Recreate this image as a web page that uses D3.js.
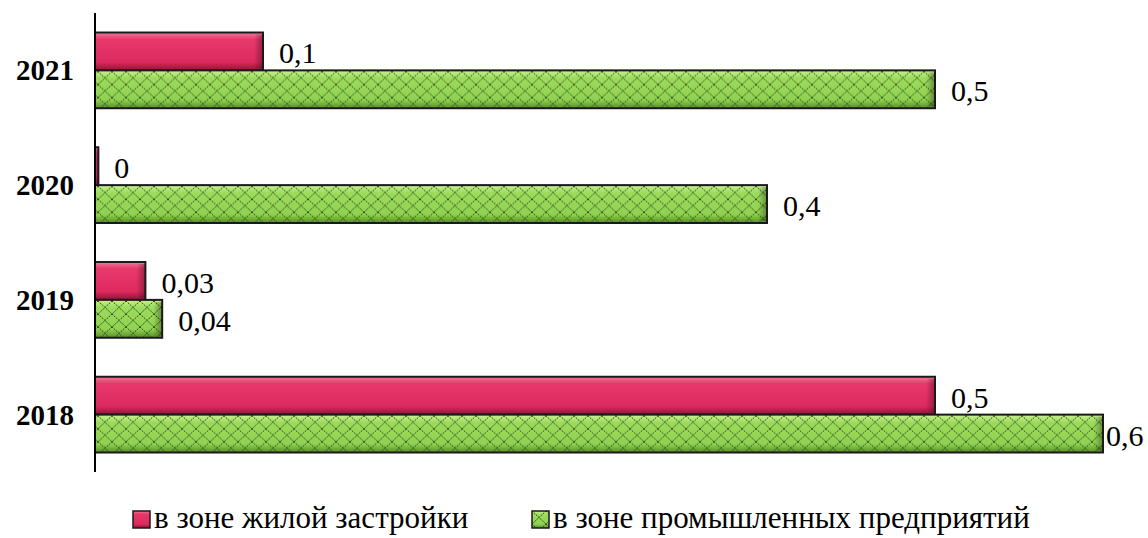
<!DOCTYPE html>
<html>
<head>
<meta charset="utf-8">
<script src="https://cdn.jsdelivr.net/npm/d3@7"></script>
</head>
<body style="margin:0">
<script>
// ============================================================================
// data
// ============================================================================

const years = ["2021", "2020", "2019", "2018"];
const seriesNames = ["в зоне жилой застройки", "в зоне промышленных предприятий"];
const residential = [0.1, 0.002, 0.03, 0.5];
const industrial = [0.5, 0.4, 0.04, 0.6];

// ============================================================================
// drawing
// ============================================================================

const width = 1148, height = 538;
const margin = { top: 13, right: 45, bottom: 66, left: 95 };
const fontStack = "'Liberation Serif', 'Times New Roman', serif";

const svg = d3.select("body").append("svg")
    .attr("width", width)
    .attr("height", height)
    .style("font-family", fontStack);

const defs = svg.append("defs");

// red bevel gradient
const redGrad = defs.append("linearGradient")
    .attr("id", "redGrad").attr("x1", 0).attr("y1", 0).attr("x2", 0).attr("y2", 1);
redGrad.append("stop").attr("offset", 0).attr("stop-color", "#f27a9c");
redGrad.append("stop").attr("offset", 0.18).attr("stop-color", "#e8386a");
redGrad.append("stop").attr("offset", 0.78).attr("stop-color", "#de2a5d");
redGrad.append("stop").attr("offset", 1).attr("stop-color", "#8e1438");

// green bevel gradient
const greenGrad = defs.append("linearGradient")
    .attr("id", "greenGrad").attr("x1", 0).attr("y1", 0).attr("x2", 0).attr("y2", 1);
greenGrad.append("stop").attr("offset", 0).attr("stop-color", "#c8f292");
greenGrad.append("stop").attr("offset", 0.2).attr("stop-color", "#9cdc5c");
greenGrad.append("stop").attr("offset", 0.78).attr("stop-color", "#8fd150");
greenGrad.append("stop").attr("offset", 1).attr("stop-color", "#548e26");

// right edge shade
const edgeGrad = defs.append("linearGradient")
    .attr("id", "edgeGrad").attr("x1", 0).attr("y1", 0).attr("x2", 1).attr("y2", 0);
edgeGrad.append("stop").attr("offset", 0).attr("stop-color", "#000").attr("stop-opacity", 0);
edgeGrad.append("stop").attr("offset", 1).attr("stop-color", "#000").attr("stop-opacity", 0.35);

// crosshatch (diamond lattice)
const hatch = defs.append("pattern")
    .attr("id", "hatch")
    .attr("patternUnits", "userSpaceOnUse")
    .attr("width", 14).attr("height", 13);
hatch.append("path")
    .attr("d", "M0,0 L14,13 M14,0 L0,13")
    .attr("stroke", "#2c4219")
    .attr("stroke-width", 1)
    .attr("stroke-dasharray", "1.6,1")
    .attr("fill", "none");

const x = d3.scaleLinear()
    .domain([0, 0.6])
    .range([margin.left, width - margin.right]);

const y = d3.scaleBand()
    .domain(years)
    .range([margin.top, height - margin.bottom])
    .paddingInner(0.34)
    .paddingOuter(0.17);

const ySub = d3.scaleBand()
    .domain([0, 1])
    .range([0, y.bandwidth()]);

const fmt = v => d3.format(".2~f")(v).replace(".", ",");

const rows = years.map((yr, i) => ({ year: yr, values: [residential[i], industrial[i]] }));

const group = svg.append("g")
  .selectAll("g")
  .data(rows)
  .join("g")
    .attr("transform", d => `translate(0,${y(d.year)})`);

function drawBar(sel, s) {
    const bw = ySub.bandwidth();
    sel.append("rect")
        .attr("x", x(0))
        .attr("y", ySub(s))
        .attr("width", d => x(d.values[s]) - x(0))
        .attr("height", bw)
        .attr("fill", s === 0 ? "url(#redGrad)" : "url(#greenGrad)");
    if (s === 1) {
        sel.append("rect")
            .attr("x", x(0))
            .attr("y", ySub(s))
            .attr("width", d => x(d.values[s]) - x(0))
            .attr("height", bw)
            .attr("fill", "url(#hatch)");
    }
    sel.append("rect")
        .attr("x", d => Math.max(x(0), x(d.values[s]) - 9))
        .attr("y", ySub(s) + 2)
        .attr("width", d => Math.min(9, x(d.values[s]) - x(0)))
        .attr("height", bw - 4)
        .attr("fill", "url(#edgeGrad)");
    sel.append("rect")
        .attr("x", x(0))
        .attr("y", ySub(s))
        .attr("width", d => x(d.values[s]) - x(0))
        .attr("height", bw)
        .attr("fill", "none")
        .attr("stroke", "#1a1a1a")
        .attr("stroke-width", 2);
    // value labels
    sel.append("text")
        .attr("x", d => Math.min(x(d.values[s]) + 16, width - 42))
        .attr("y", ySub(s) + bw / 2 + 12)
        .style("font-family", fontStack)
        .style("font-size", "30px")
        .attr("fill", "#000")
        .text(d => fmt(d.values[s]));
}

drawBar(group, 0);
drawBar(group, 1);

// category labels
svg.append("g")
  .selectAll("text")
  .data(years)
  .join("text")
    .attr("x", 74)
    .attr("y", d => y(d) + y.bandwidth() / 2 + 10)
    .attr("text-anchor", "end")
    .style("font-family", fontStack)
    .style("font-size", "29px")
    .style("font-weight", "bold")
    .text(d => d);

// axis line
svg.append("line")
    .attr("x1", x(0)).attr("x2", x(0))
    .attr("y1", margin.top).attr("y2", height - margin.bottom)
    .attr("stroke", "#000")
    .attr("stroke-width", 2);

// ============================================================================
// legend
// ============================================================================

const legend = svg.append("g");
const legendX = [133, 532];
seriesNames.forEach((name, i) => {
    const g = legend.append("g").attr("transform", `translate(${legendX[i]},511)`);
    g.append("rect").attr("width", 17).attr("height", 17)
        .attr("fill", i === 0 ? "url(#redGrad)" : "url(#greenGrad)");
    if (i === 1) g.append("rect").attr("width", 17).attr("height", 17).attr("fill", "url(#hatch)");
    g.append("rect").attr("width", 17).attr("height", 17)
        .attr("fill", "none").attr("stroke", "#1a1a1a").attr("stroke-width", 1.5);
    g.append("text")
        .attr("x", 21)
        .attr("y", 17)
        .style("font-family", fontStack)
        .style("font-size", "31px")
        .text(name);
});
</script>
</body>
</html>
